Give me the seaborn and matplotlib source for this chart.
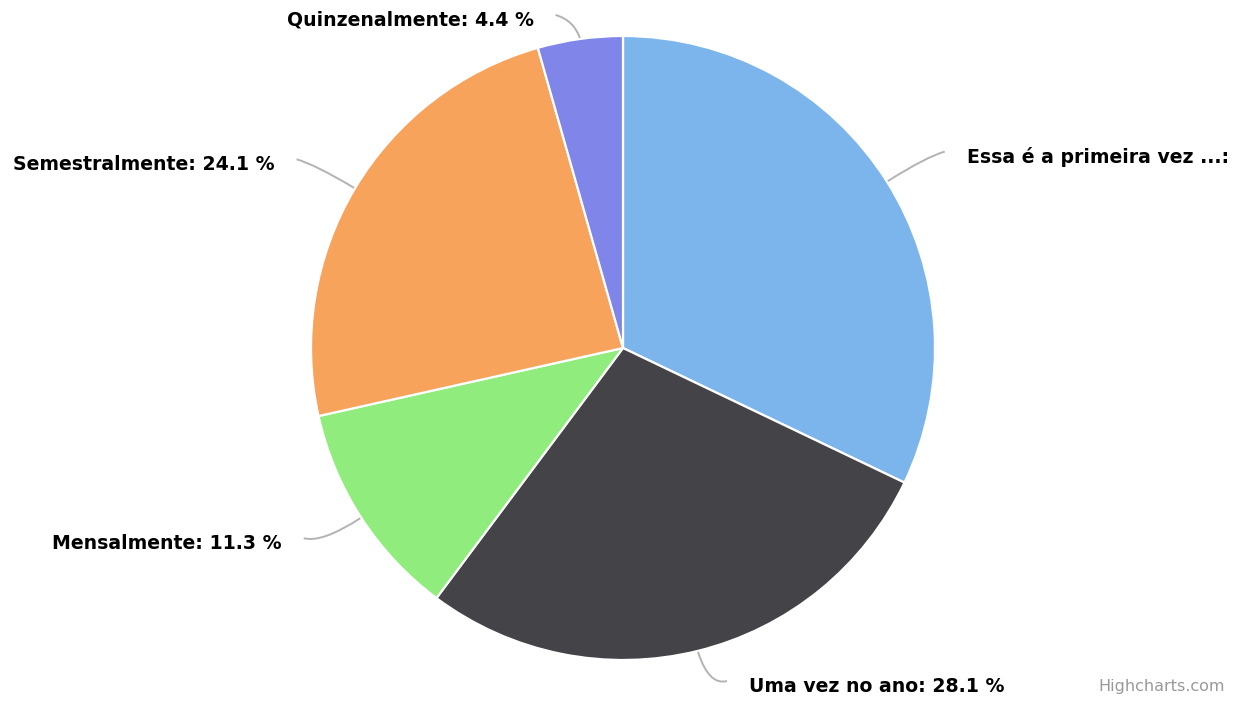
import numpy as np
import matplotlib
matplotlib.use("Agg")
import matplotlib.pyplot as plt
from matplotlib.path import Path
from matplotlib.patches import PathPatch
import seaborn as sns

categories = ["Essa é a primeira vez ...", "Uma vez no ano", "Mensalmente",
              "Semestralmente", "Quinzenalmente"]
values = [32.1, 28.1, 11.3, 24.1, 4.4]
label_texts = ["Essa é a primeira vez ...:", "Uma vez no ano: 28.1 %", "Mensalmente: 11.3 %",
               "Semestralmente: 24.1 %", "Quinzenalmente: 4.4 %"]
palette_hex = ["#7cb5ec", "#434348", "#90ed7d", "#f7a35c", "#8085e9"]

sns.set_theme(style="white")
plt.rcParams['font.family'] = ['DejaVu Sans']
colors = sns.color_palette(palette_hex)

W, H = 1241, 706
fig = plt.figure(figsize=(W / 100, H / 100), dpi=100)
ax = fig.add_axes([0, 0, 1, 1])

cx, cy, r = 623, H - 348, 312
wedges, _ = ax.pie(values, colors=colors, startangle=90, counterclock=False,
                   radius=r, center=(cx, cy),
                   wedgeprops=dict(edgecolor="white", linewidth=1.6))
ax.set_xlim(0, W)
ax.set_ylim(0, H)
ax.set_aspect("equal")
ax.axis("off")

dist = 47
for w, txt in zip(wedges, label_texts):
    mid = np.deg2rad((w.theta1 + w.theta2) / 2)
    ux, uy = np.cos(mid), np.sin(mid)
    ex, ey = cx + (r + 1) * ux, cy + (r + 1) * uy
    ax_, ay_ = cx + (r + dist) * ux, cy + (r + dist) * uy
    ly = min(max(ay_, H - 686), H - 20)
    side = 1 if ux >= 0 else -1
    endx = ax_ + side * 18
    path = Path([(ex, ey), (ax_, ly), (endx, ly + 5)],
                [Path.MOVETO, Path.CURVE3, Path.CURVE3])
    ax.add_patch(PathPatch(path, facecolor="none", edgecolor="#b3b3b3", linewidth=1.4))
    ax.text(endx + side * 22, ly, txt, ha="left" if side > 0 else "right",
            va="center", fontsize=13.6, fontweight="bold", color="black")

ax.text(W - 16, 12, "Highcharts.com", ha="right", va="bottom", fontsize=11.5, color="#999999")

fig.savefig("out.png", dpi=100)
